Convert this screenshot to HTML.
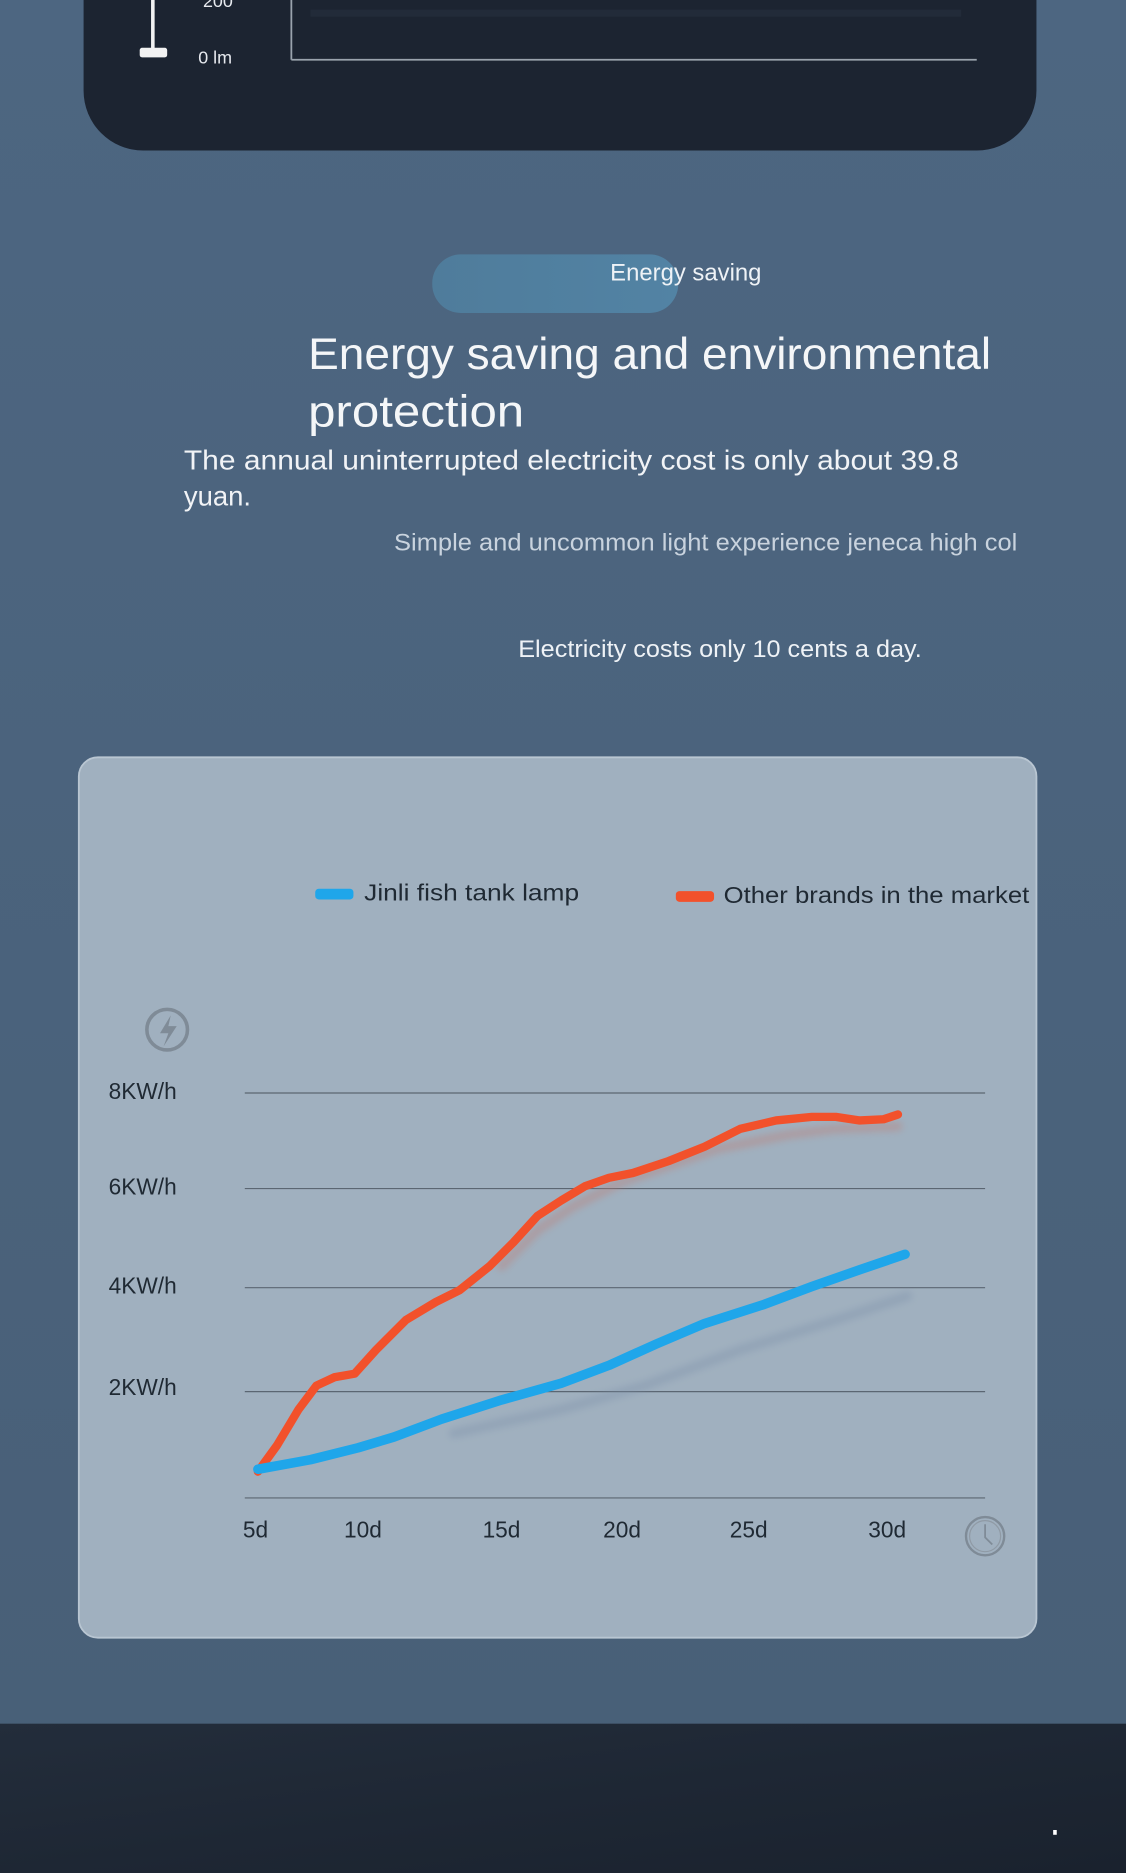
<!DOCTYPE html>
<html><head><meta charset="utf-8"><style>
html,body{margin:0;padding:0;background:#4a6179;}
svg{display:block;}
text{font-family:"Liberation Sans","DejaVu Sans",sans-serif;}
</style></head><body>
<svg width="1126" height="1873" viewBox="0 0 943 1568" preserveAspectRatio="none" xmlns="http://www.w3.org/2000/svg">
<defs>
<linearGradient id="bg" x1="0" y1="0" x2="0" y2="1">
<stop offset="0" stop-color="#4d6681"/><stop offset="1" stop-color="#485f77"/>
</linearGradient>
<linearGradient id="band" x1="0" y1="0" x2="1" y2="1">
<stop offset="0" stop-color="#232d3b"/><stop offset="0.5" stop-color="#1e2734"/><stop offset="1" stop-color="#1a222e"/>
</linearGradient>
<linearGradient id="pill" x1="0" y1="0" x2="1" y2="0">
<stop offset="0" stop-color="#4f7c9b"/><stop offset="1" stop-color="#5283a4"/>
</linearGradient>
<filter id="blur"><feGaussianBlur stdDeviation="3"/></filter>
</defs>
<rect width="943" height="1568" fill="url(#bg)"/>
<path d="M70 0 H868 V76 A50 50 0 0 1 818 126 H120 A50 50 0 0 1 70 76 Z" fill="#1c2431"/>
<line x1="244" y1="0" x2="244" y2="50" stroke="#9aa3ad" stroke-width="1.5"/>
<line x1="244" y1="50" x2="818" y2="50" stroke="#9aa3ad" stroke-width="1.5"/>
<rect x="260" y="8" width="545" height="6" fill="#263040" opacity="0.6"/>
<line x1="128" y1="0" x2="128" y2="42" stroke="#f2f2f2" stroke-width="3"/>
<rect x="117" y="40" width="23" height="8" rx="2" fill="#f2f2f2"/>
<text x="166" y="53" font-size="15" fill="#e6e9ee">0 lm</text>
<text x="170" y="6" font-size="15" fill="#e6e9ee">200</text>
<rect x="362" y="213" width="206" height="49" rx="24" fill="url(#pill)"/>
<text x="511" y="235" font-size="20" fill="#eef2f6">Energy saving</text>
<text x="258" y="309" font-size="37" fill="#f4f6f8" textLength="572" lengthAdjust="spacingAndGlyphs">Energy saving and environmental</text>
<text x="258" y="357" font-size="37" fill="#f4f6f8" textLength="181" lengthAdjust="spacingAndGlyphs">protection</text>
<text x="154" y="393" font-size="23" fill="#f1f3f6" textLength="649" lengthAdjust="spacingAndGlyphs">The annual uninterrupted electricity cost is only about 39.8</text>
<text x="154" y="423" font-size="23" fill="#f1f3f6">yuan.</text>
<text x="330" y="461" font-size="20" fill="#c9d3de" textLength="522" lengthAdjust="spacingAndGlyphs">Simple and uncommon light experience jeneca high col</text>
<text x="434" y="550" font-size="20" fill="#eef2f6" textLength="338" lengthAdjust="spacingAndGlyphs">Electricity costs only 10 cents a day.</text>
<rect x="66" y="634" width="802" height="737" rx="16" fill="#a0b0bf" stroke="#b9c6d2" stroke-width="1.5"/>
<rect x="264" y="744" width="32" height="9" rx="3" fill="#1fa6ea"/>
<text x="305" y="754" font-size="19" fill="#1f2933" textLength="180" lengthAdjust="spacingAndGlyphs">Jinli fish tank lamp</text>
<rect x="566" y="746" width="32" height="9" rx="3" fill="#f2512b"/>
<text x="606" y="756" font-size="19" fill="#1f2933" textLength="256" lengthAdjust="spacingAndGlyphs">Other brands in the market</text>
<circle cx="140" cy="862" r="17" fill="none" stroke="#7f8b97" stroke-width="3"/>
<path d="M143 850 L134 865 H141 L137 876 L148 859 H141 Z" fill="#7f8b97"/>
<g stroke="#5b6672" stroke-width="1">
<line x1="205" y1="915" x2="825" y2="915"/>
<line x1="205" y1="995" x2="825" y2="995"/>
<line x1="205" y1="1078" x2="825" y2="1078"/>
<line x1="205" y1="1165" x2="825" y2="1165"/>
<line x1="205" y1="1254" x2="825" y2="1254"/>
</g>
<g font-size="19" fill="#1f2933">
<text x="91" y="920">8KW/h</text>
<text x="91" y="1000">6KW/h</text>
<text x="91" y="1083">4KW/h</text>
<text x="91" y="1168">2KW/h</text>
<text x="214" y="1287" text-anchor="middle">5d</text>
<text x="304" y="1287" text-anchor="middle">10d</text>
<text x="420" y="1287" text-anchor="middle">15d</text>
<text x="521" y="1287" text-anchor="middle">20d</text>
<text x="627" y="1287" text-anchor="middle">25d</text>
<text x="743" y="1287" text-anchor="middle">30d</text>
</g>
<circle cx="825" cy="1286" r="16" fill="none" stroke="#7f8b97" stroke-width="2"/>
<circle cx="825" cy="1286" r="13" fill="none" stroke="#8f9aa5" stroke-width="1"/>
<path d="M825 1276 V1287 L831 1293" fill="none" stroke="#7f8b97" stroke-width="1.5"/>
<g filter="url(#blur)" opacity="0.35" fill="none" stroke-width="8" stroke-linecap="round">
<polyline stroke="#7a8fa8" points="380,1200 470,1180 540,1160 620,1130 700,1105 760,1085"/>
<polyline stroke="#c07a70" points="420,1060 450,1030 480,1010 520,990 600,962 660,950 700,945 752,943"/>
</g>
<polyline fill="none" stroke="#f2512b" stroke-width="7" stroke-linecap="round" stroke-linejoin="round" points="216,1232 232,1210 250,1180 265,1160 280,1153 297,1150 315,1130 340,1105 365,1090 385,1080 410,1060 430,1040 450,1018 470,1005 490,993 510,986 530,982 560,972 590,960 620,945 650,938 680,935 700,935 720,938 740,937 752,933"/>
<polyline fill="none" stroke="#1fa6ea" stroke-width="8" stroke-linecap="round" stroke-linejoin="round" points="216,1230 260,1222 300,1212 330,1203 370,1188 420,1172 470,1158 510,1143 550,1125 590,1108 640,1092 680,1077 720,1063 758,1050"/>
<rect x="0" y="1443" width="943" height="125" fill="url(#band)"/>
<rect x="882" y="1532" width="3" height="4" fill="#ffffff"/>
</svg>
</body></html>
